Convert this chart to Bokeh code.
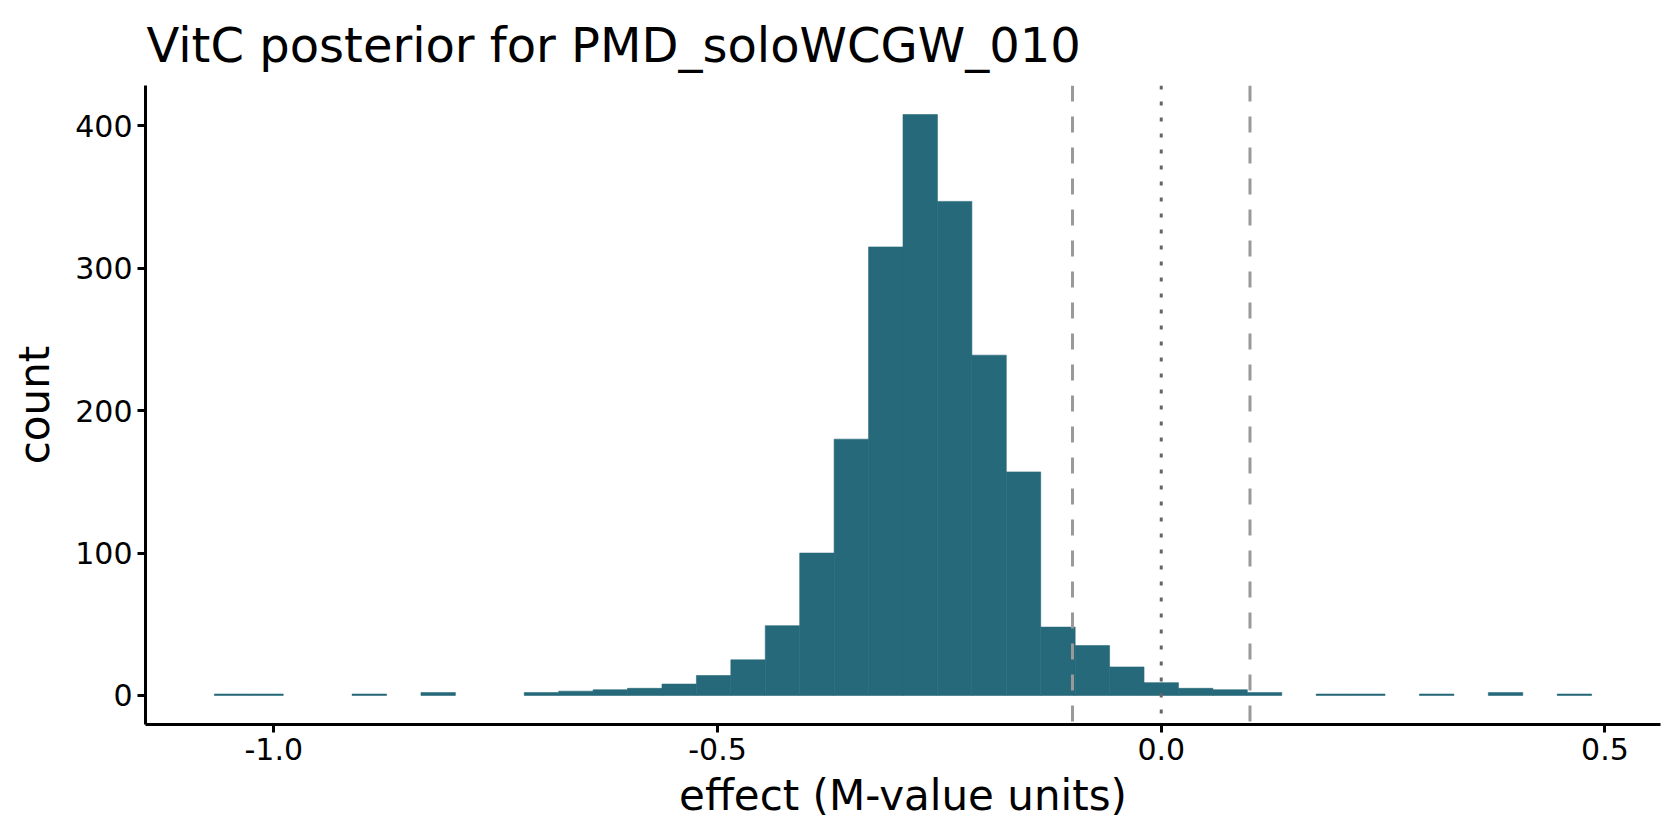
from bokeh.plotting import figure
from bokeh.models import Range1d, FixedTicker, Span
from bokeh.embed import file_html
from bokeh.resources import INLINE

# ---- data ----
bin_width = 0.0388
bin_centers = [-1.0476, -1.0088, -0.8924, -0.8148, -0.6984, -0.6596, -0.6208, -0.582,
               -0.5432, -0.5044, -0.4656, -0.4268, -0.388, -0.3492, -0.3104, -0.2716,
               -0.2328, -0.194, -0.1552, -0.1164, -0.0776, -0.0388, 0.0, 0.0388,
               0.0776, 0.1164, 0.194, 0.2328, 0.3104, 0.388, 0.4656]
counts = [1, 1, 1, 2, 2, 3, 4, 5, 8, 14, 25, 49, 100, 180, 315, 408, 347, 239, 157,
          48, 35, 20, 9, 5, 4, 2, 1, 1, 1, 2, 1]
rope_lines = [-0.1, 0.1]
zero_line = [0.0]
x_ticks = [-1.0, -0.5, 0.0, 0.5]
x_tick_labels = ["-1.0", "-0.5", "0.0", "0.5"]
y_ticks = [0, 100, 200, 300, 400]
title_text = "VitC posterior for PMD_soloWCGW_010"
x_title = "effect (M-value units)"
y_title = "count"

FONT = "DejaVu Sans"
FILL = "#26697A"

p = figure(width=1664, height=824, output_backend="svg", toolbar_location=None,
           x_range=Range1d(-1.1446, 0.5626), y_range=Range1d(-20.4, 428.4),
           min_border_left=145, min_border_right=4, min_border_top=85,
           min_border_bottom=100)

left = [c - bin_width / 2 for c in bin_centers]
right = [c + bin_width / 2 for c in bin_centers]
p.quad(left=left, right=right, bottom=0, top=counts, fill_color=FILL,
       line_color=FILL, line_width=0.6)

for loc in rope_lines:
    p.add_layout(Span(location=loc, dimension="height", line_color="#999999",
                      line_width=3, line_dash="16 15"))
for loc in zero_line:
    p.add_layout(Span(location=loc, dimension="height", line_color="#666666",
                      line_width=3, line_dash="4 12"))

p.title.text = title_text
p.title.text_font = FONT
p.title.text_font_size = "48px"
p.title.text_font_style = "normal"
p.title.text_color = "black"
p.title.align = "left"
p.title.offset = 1
p.title.standoff = 25

p.xgrid.visible = False
p.ygrid.visible = False
p.outline_line_color = None
p.background_fill_color = "white"
p.border_fill_color = "white"

p.xaxis.ticker = FixedTicker(ticks=x_ticks)
p.xaxis.major_label_overrides = {t: l for t, l in zip(x_ticks, x_tick_labels)}
p.yaxis.ticker = FixedTicker(ticks=y_ticks)

for ax in (p.xaxis, p.yaxis):
    ax.axis_line_color = "black"
    ax.axis_line_width = 3
    ax.major_tick_line_color = "black"
    ax.major_tick_line_width = 3
    ax.major_tick_out = 8
    ax.major_tick_in = 0
    ax.minor_tick_line_color = None
    ax.major_label_text_font = FONT
    ax.major_label_text_font_size = "30px"
    ax.major_label_text_color = "black"
    ax.major_label_standoff = 5
    ax.axis_label_text_font = FONT
    ax.axis_label_text_font_size = "42px"
    ax.axis_label_text_font_style = "normal"
    ax.axis_label_text_color = "black"

p.xaxis.axis_label = x_title
p.yaxis.axis_label = y_title
p.xaxis.axis_label_standoff = 8
p.yaxis.axis_label_standoff = 13

open("out.html", "w").write(file_html(p, INLINE))
